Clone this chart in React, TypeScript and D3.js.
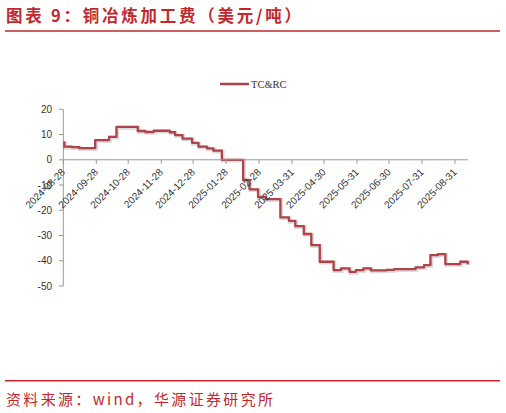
import React from "react";
import * as d3 from "d3";

const dates = [
  "2024-08-28", "2024-08-29", "2024-09-05", "2024-09-12", "2024-09-27", "2024-10-10",
  "2024-10-17", "2024-11-06", "2024-11-13", "2024-11-21", "2024-12-06", "2024-12-11",
  "2024-12-18", "2024-12-27", "2025-01-02", "2025-01-10", "2025-01-16", "2025-01-24",
  "2025-02-13", "2025-02-19", "2025-02-27", "2025-03-06", "2025-03-20", "2025-03-28",
  "2025-04-03", "2025-04-11", "2025-04-18", "2025-04-26", "2025-05-09", "2025-05-16",
  "2025-05-24", "2025-05-30", "2025-06-06", "2025-06-13", "2025-06-28", "2025-07-05",
  "2025-07-25", "2025-08-02", "2025-08-08", "2025-08-15", "2025-08-22", "2025-09-05",
  "2025-09-12",
];
const values = [
  6.9, 5.2, 5.0, 4.6, 7.8, 9.1,
  13.0, 11.4, 11.0, 11.5, 10.9, 9.8,
  8.4, 6.7, 5.2, 4.5, 3.6, 0,
  -8.0, -11.7, -14.7, -15.6, -22.8, -24.2,
  -26.3, -29.4, -33.8, -40.4, -43.7, -43.0,
  -44.4, -43.7, -43.0, -43.8, -43.6, -43.3,
  -42.6, -41.7, -37.8, -37.4, -41.3, -40.4,
  -41.4,
];
const xTickLabels = [
  "2024-08-28", "2024-09-28", "2024-10-28", "2024-11-28", "2024-12-28", "2025-01-28",
  "2025-02-28", "2025-03-31", "2025-04-30", "2025-05-31", "2025-06-30", "2025-07-31",
  "2025-08-31",
];
const yTicks = [20, 10, 0, -10, -20, -30, -40, -50];
const seriesName = "TC&RC";
const title = "图表 9：铜冶炼加工费（美元/吨）";
const source = "资料来源：wind，华源证券研究所";

const parse = d3.timeParse("%Y-%m-%d");

export default function App() {
  const W = 506, H = 413;
  const data = dates.map((d, i) => ({ date: parse(d) as Date, value: values[i] }));
  const x = d3.scaleTime()
    .domain([parse(dates[0]) as Date, parse(dates[dates.length - 1]) as Date])
    .range([63.3, 467.7]);
  const y = d3.scaleLinear().domain([-50, 20]).range([286, 109.3]);
  const line = d3.line<{ date: Date; value: number }>()
    .x((d) => x(d.date))
    .y((d) => y(d.value))
    .curve(d3.curveStepAfter);
  const path = line(data) || "";
  const red = "#c0282d";
  const axisColor = "#999";
  const y0 = y(0);
  const sansFont = "'Liberation Sans', Arial, sans-serif";

  return (
    <svg width={W} height={H} style={{ position: "absolute", left: 0, top: 0, background: "#fff" }}>
      <rect width={W} height={H} fill="#fff" />
      <text x={6} y={22} fill={red} fontSize={16.5} fontWeight="bold"
        fontFamily="'Noto Sans CJK SC', sans-serif" textLength={295} lengthAdjust="spacing">
        {title}
      </text>
      <line x1={5} x2={500} y1={31} y2={31} stroke={red} strokeWidth={1.6} />

      {/* legend */}
      <line x1={220} x2={249} y1={84} y2={84} stroke="#b0424a" strokeWidth={2.5} />
      <text x={251} y={88} fontSize={10.5} fill="#333" fontFamily="'Liberation Serif', 'Times New Roman', serif">
        {seriesName}
      </text>

      {/* y axis */}
      <line x1={63.3} x2={63.3} y1={y(20)} y2={y(-50)} stroke={axisColor} strokeWidth={1} />
      {yTicks.map((t) => (
        <g key={t}>
          <line x1={59} x2={63.3} y1={y(t)} y2={y(t)} stroke={axisColor} />
          <text x={52} y={y(t)} dy="0.35em" textAnchor="end" fontSize={10}
            fill="#333" fontFamily={sansFont}>{t}</text>
        </g>
      ))}

      {/* line */}
      <path d={path} fill="none" stroke="#999" strokeOpacity={0.35} strokeWidth={4} transform="translate(0.8,0.8)" />
      <path d={path} fill="none" stroke="#b0424a" strokeWidth={2.3} strokeLinejoin="round" />

      {/* x axis */}
      <line x1={63.3} x2={467.7} y1={y0} y2={y0} stroke={axisColor} strokeWidth={1} />
      {xTickLabels.map((t) => {
        const tx = x(parse(t) as Date);
        return (
          <g key={t}>
            <line x1={tx} x2={tx} y1={y0} y2={y0 + 4} stroke={axisColor} />
            <text transform={`translate(${tx + 2.5},${y0 + 13}) rotate(-45)`} textAnchor="end"
              fontSize={10} fill="#333" fontFamily={sansFont}>{t}</text>
          </g>
        );
      })}

      <line x1={5} x2={500} y1={380.7} y2={380.7} stroke={red} strokeWidth={1.6} />
      <text x={6} y={405} fill={red} fontSize={15}
        fontFamily="'Noto Sans CJK SC', sans-serif" textLength={267} lengthAdjust="spacing">
        {source}
      </text>
    </svg>
  );
}
